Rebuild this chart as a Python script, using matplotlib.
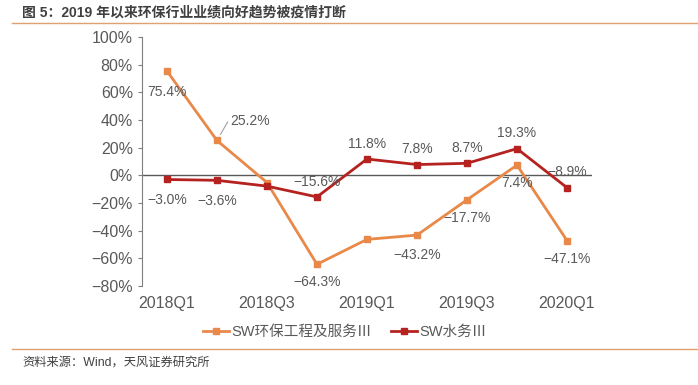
import numpy as np
import matplotlib.pyplot as plt
from matplotlib.lines import Line2D

plt.rcParams['font.family'] = ['Liberation Sans', 'Noto Sans CJK SC', 'DejaVu Sans']

quarters = ['2018Q1', '2018Q2', '2018Q3', '2018Q4', '2019Q1', '2019Q2', '2019Q3', '2019Q4', '2020Q1']
env_eng = [75.4, 25.2, -5.2, -64.3, -46.3, -43.2, -17.7, 7.4, -47.1]
water = [-3.0, -3.6, -7.8, -15.6, 11.8, 7.8, 8.7, 19.3, -8.9]
env_name = 'SW环保工程及服务Ⅲ'
water_name = 'SW水务Ⅲ'
title = '图 5：2019 年以来环保行业业绩向好趋势被疫情打断'
source = '资料来源：Wind，天风证券研究所'

orange = '#E8894A'
red = '#B5221F'
gray = '#595959'

fig = plt.figure(figsize=(6.98, 3.85), dpi=100)
ax = fig.add_axes([0.2034, 0.2571, 0.6447, 0.6468])

x = np.arange(len(quarters))
ax.plot(x, env_eng, color=orange, lw=2, marker='s', ms=5, zorder=3)
ax.plot(x, water, color=red, lw=2, marker='s', ms=5, zorder=4)
ax.axhline(0, color='#595959', lw=1, zorder=2)

ax.set_xlim(-0.5, len(quarters) - 0.5)
ax.set_ylim(-80, 100)
ax.set_yticks(np.arange(-80, 101, 20))
ax.set_yticklabels([f'{v}%'.replace('-', '−') for v in range(-80, 101, 20)])
ax.set_xticks(x[::2])
ax.set_xticklabels(quarters[::2])
for s in ['top', 'right', 'bottom']:
    ax.spines[s].set_visible(False)
ax.spines['left'].set_color('#7f7f7f')
ax.tick_params(axis='y', colors=gray, labelsize=11.5, length=3, color='#7f7f7f')
ax.tick_params(axis='x', colors=gray, labelsize=11.5, length=0, pad=7)

# data labels (offsets in points)
env_off = [(0, -15), (24, 14), None, (0, -13), None, (0, -14), (0, -13), (0, -13), (0, -13)]
water_off = [(0, -15), (0, -15), None, (0, 11), (0, 11), (0, 11), (0, 11), (0, 11), (0, 11)]
for i, v in enumerate(env_eng):
    if env_off[i] is None:
        continue
    kw = {}
    if i == 1:
        kw['arrowprops'] = dict(arrowstyle='-', color='#a0a0a0', lw=0.8,
                                shrinkA=0, shrinkB=5, connectionstyle='angle,angleA=0,angleB=60')
    ax.annotate(f'{v}%'.replace('-', '−'), (x[i], v), xytext=env_off[i], textcoords='offset points',
                ha='center', va='center', fontsize=10, color=gray, zorder=5, **kw)
for i, v in enumerate(water):
    if water_off[i] is None:
        continue
    ax.annotate(f'{v}%'.replace('-', '−'), (x[i], v), xytext=water_off[i], textcoords='offset points',
                ha='center', va='center', fontsize=10, color=gray, zorder=5)

handles = [Line2D([], [], color=orange, lw=2, marker='s', ms=5),
           Line2D([], [], color=red, lw=2, marker='s', ms=5)]
fig.legend(handles, [env_name, water_name], loc='center', bbox_to_anchor=(0.494, 0.138),
           ncol=2, frameon=False, fontsize=10.5, labelcolor=gray, handlelength=1.8,
           handletextpad=0.15, columnspacing=1.3)

fig.text(0.032, 0.968, title, fontsize=10, fontweight='bold', color='#404040', va='center')
fig.add_artist(Line2D([0.017, 1.0], [0.94, 0.94], color='#E0A070', lw=1))
fig.add_artist(Line2D([0.017, 1.0], [0.094, 0.094], color='#E0A070', lw=1))
fig.text(0.032, 0.057, source, fontsize=8.8, color='#404040', va='center')

fig.savefig('out.png', dpi=100, facecolor='white')
